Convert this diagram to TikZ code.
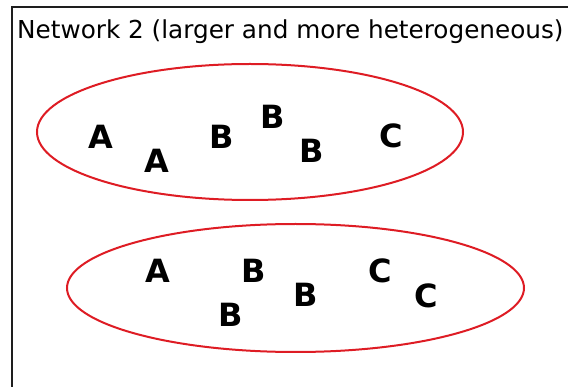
\documentclass[tikz,border=0pt]{standalone}
\usepackage{fontspec}
\setmainfont{DejaVu Sans}
\usetikzlibrary{shapes.geometric}
\definecolor{ringred}{RGB}{222,28,36}
\definecolor{framegray}{RGB}{30,30,30}
\tikzset{
  ring/.style={draw=ringred, line width=2pt, ellipse, inner sep=0pt},
  letter/.style={inner sep=0pt, font=\fontsize{32}{32}\selectfont\bfseries},
  frameline/.style={draw=framegray, line width=2pt},
}
\begin{document}
\begin{tikzpicture}[x=1pt,y=-1pt]
\useasboundingbox (0,0) rectangle (568,387);
\coordinate (tl) at (12,7);
\coordinate (tr) at (570,7);
\coordinate (bl) at (12,389);
\draw[frameline] (tr) -- (tl) -- (bl);
\node[anchor=base west, inner sep=0pt, font=\fontsize{24.7}{24.7}\selectfont] (title) at (17,39) {Network 2 (larger and more heterogeneous)};
% ellipses
\node[ring, minimum width=426pt, minimum height=136pt] (net1) at (250,132) {};
\node[ring, minimum width=457pt, minimum height=128pt] (net2) at (295.5,288) {};
% letters in first group
\node[letter] (a1) at (101,137) {A};
\node[letter] (a2) at (157,161) {A};
\node[letter] (b1) at (222,137) {B};
\node[letter] (b2) at (273,117) {B};
\node[letter] (b3) at (312,151) {B};
\node[letter] (c1) at (391,136) {C};
% letters in second group
\node[letter] (a3) at (158,271) {A};
\node[letter] (b4) at (254,271) {B};
\node[letter] (b5) at (231,315) {B};
\node[letter] (b6) at (306,295) {B};
\node[letter] (c2) at (380,271) {C};
\node[letter] (c3) at (426,296) {C};
\end{tikzpicture}
\end{document}
